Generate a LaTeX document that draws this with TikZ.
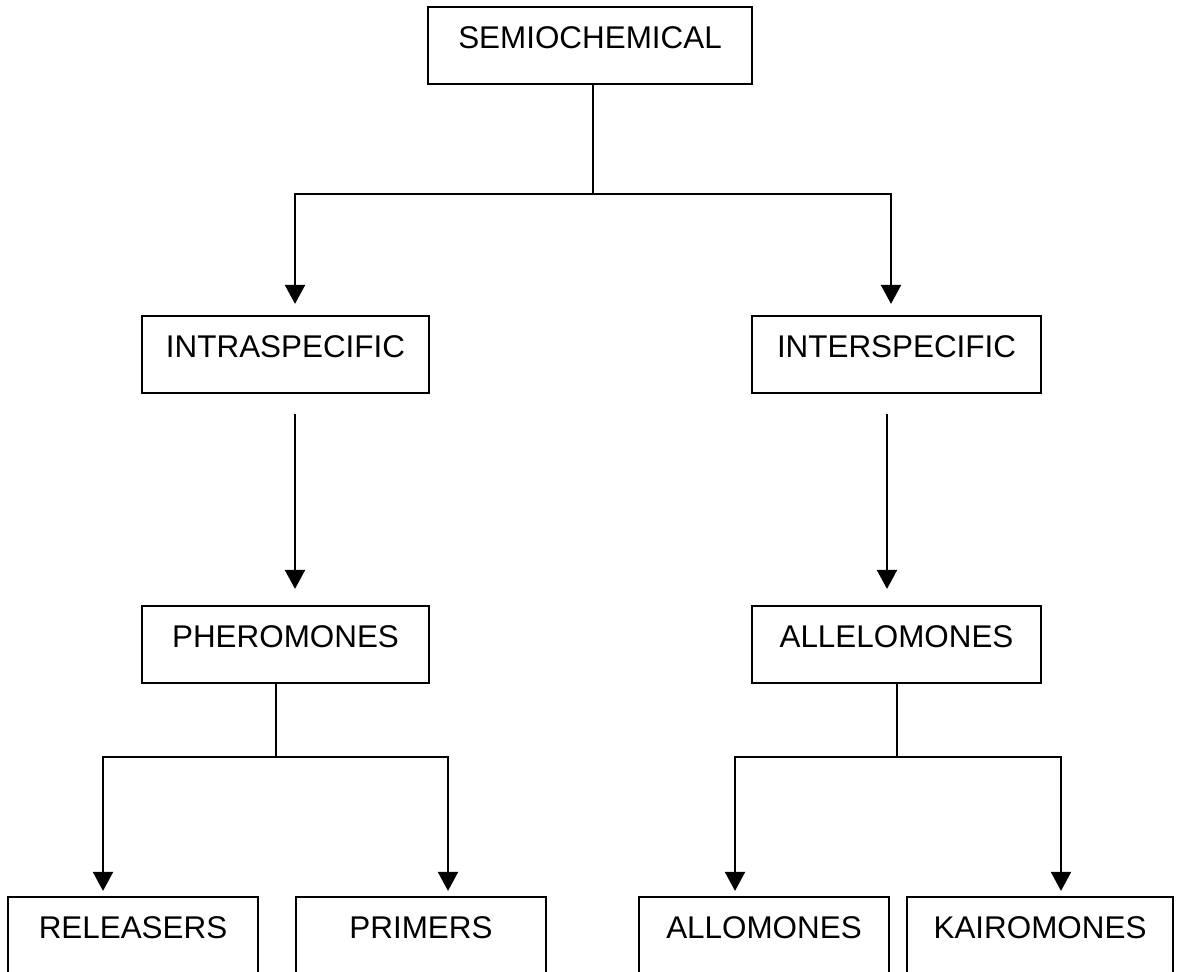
\documentclass[tikz,border=0pt]{standalone}
\usepackage{fontspec}
\setmainfont{Liberation Sans}
\usetikzlibrary{arrows.meta, positioning}

\begin{document}
\begin{tikzpicture}[
  x=0.5pt, y=-0.5pt,
  catbox/.style={draw, line width=1.1pt, anchor=base, inner xsep=0pt, inner ysep=0pt,
    text height=20.5pt, text depth=18pt, font=\fontsize{15.7}{19}\selectfont},
  leafbox/.style={catbox, text depth=24pt},
  link/.style={line width=1pt},
  arr/.style={link, -{Triangle[length=9.5pt, width=10pt]}}
]
  \clip (0,0) rectangle (1177,971);
  \fill[white] (0,0) rectangle (1177,971);

  % boxes
  \node[catbox, minimum width=162pt] (semi) at (590,48) {SEMIOCHEMICAL};
  \node[catbox, minimum width=143.5pt] (intra) at (285.5,357) {INTRASPECIFIC};
  \node[catbox, minimum width=144.5pt] (inter) at (896.5,357) {INTERSPECIFIC};
  \node[catbox, minimum width=143.5pt] (phero) at (285.5,647) {PHEROMONES};
  \node[catbox, minimum width=144.5pt] (allel) at (896.5,647) {ALLELOMONES};
  \node[leafbox, minimum width=125pt] (rel) at (133,938) {RELEASERS};
  \node[leafbox, minimum width=125pt] (prim) at (421,938) {PRIMERS};
  \node[leafbox, minimum width=125pt] (allo) at (764,938) {ALLOMONES};
  \node[leafbox, minimum width=133pt] (kairo) at (1040,938) {KAIROMONES};

  % branch points
  \coordinate (lc) at (295,194);
  \coordinate (rc) at (891,194);
  \coordinate (pl) at (103,757);
  \coordinate (pr) at (448,757);
  \coordinate (al) at (735,757);
  \coordinate (ar) at (1061,757);

  % connectors
  \draw[arr, shorten >=5.5pt] ([xshift=1.5pt]semi.south) |- (lc) -- (lc |- intra.north);
  \draw[arr, shorten >=5.5pt] ([xshift=1.5pt]semi.south) |- (rc) -- (rc |- inter.north);
  \draw[arr, shorten <=10pt, shorten >=8pt] (intra.south -| lc) -- (phero.north -| lc);
  \draw[arr, shorten <=10pt, shorten >=8pt] ([xshift=-2pt]inter.south -| rc) -- ([xshift=-2pt]allel.north -| rc);
  \draw[arr, shorten >=2.5pt] ([xshift=-4.75pt]phero.south) |- (pl) -- (pl |- rel.north);
  \draw[arr, shorten >=2.5pt] ([xshift=-4.75pt]phero.south) |- (pr) -- (pr |- prim.north);
  \draw[arr, shorten >=2.5pt] (allel.south) |- (al) -- (al |- allo.north);
  \draw[arr, shorten >=2.5pt] (allel.south) |- (ar) -- (ar |- kairo.north);
\end{tikzpicture}
\end{document}
